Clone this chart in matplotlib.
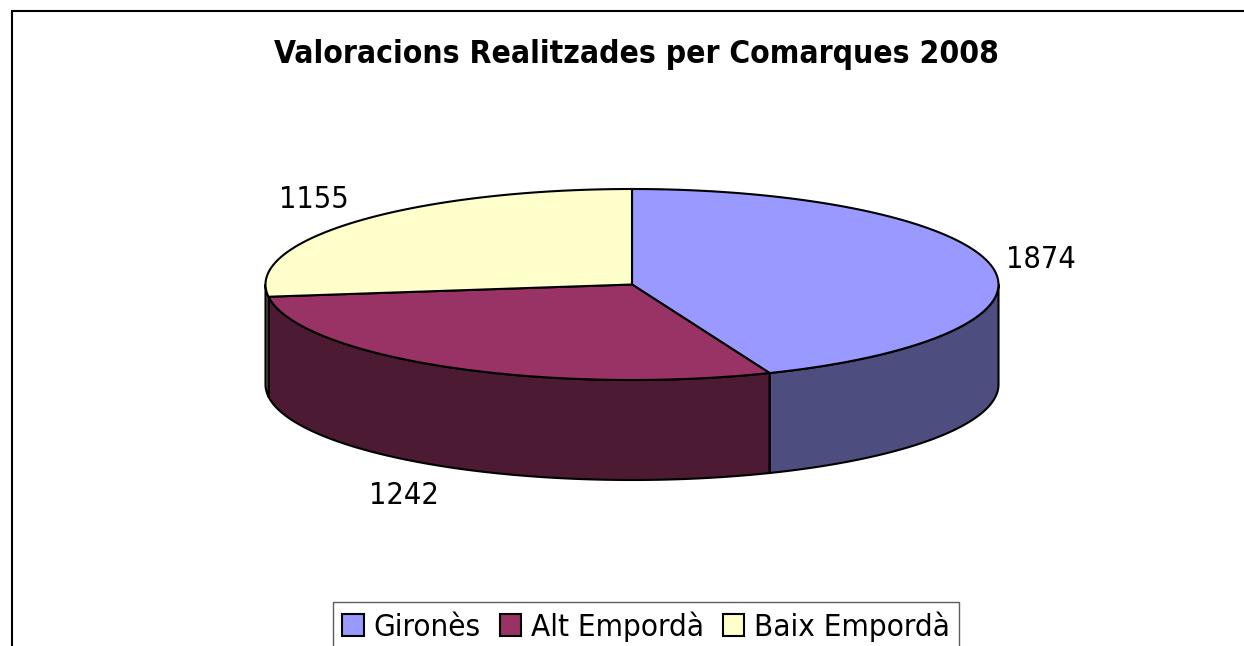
import numpy as np
import matplotlib
matplotlib.use('Agg')
import matplotlib.pyplot as plt
from matplotlib.patches import Polygon, Patch

# data
comarques = ['Gironès', 'Alt Empordà', 'Baix Empordà']
valors = [1874, 1242, 1155]
titol = 'Valoracions Realitzades per Comarques 2008'

colors_top = ['#9999FF', '#993366', '#FFFFCC']
colors_side = ['#4D4D80', '#4C1A33', '#80806A']

# geometry of the 3d pie, in pixels
cx, cy = 632, 284.5
a, b = 366.5, 95.5
depth = 100

plt.rcParams['font.family'] = ['DejaVu Sans']
plt.rcParams['font.stretch'] = 'condensed'

fig = plt.figure(figsize=(12.44, 6.46), dpi=100)
ax = fig.add_axes([0, 0, 1, 1])
ax.set_xlim(0, 1244)
ax.set_ylim(646, 0)
ax.axis('off')


def arc(t1, t2, dy=0, n=100):
    t = np.radians(np.linspace(t1, t2, n))
    return np.column_stack([cx + a * np.cos(t), cy - b * np.sin(t) + dy])


total = float(sum(valors))
fracs = np.array(valors) / total
starts = 90 - 360 * np.concatenate([[0], np.cumsum(fracs)[:-1]])
ends = starts - 360 * fracs

# side walls (front half of the ellipse only)
for t1, t2, col in zip(starts, ends, colors_side):
    lo, hi = max(t2, -180), min(t1, 0)
    if hi <= lo:
        continue
    top = arc(lo, hi)
    bot = arc(hi, lo, dy=depth)
    ax.add_patch(Polygon(np.vstack([top, bot]), closed=True, facecolor=col,
                         edgecolor='black', lw=1.5, joinstyle='round', zorder=2))

# top faces
for t1, t2, col in zip(starts, ends, colors_top):
    pts = np.vstack([[cx, cy], arc(t1, t2)])
    ax.add_patch(Polygon(pts, closed=True, facecolor=col, edgecolor='black',
                         lw=1.5, joinstyle='round', zorder=3))

# data labels, just outside the rim at the middle of each slice
for t1, t2, v in zip(starts, ends, valors):
    m = np.radians((t1 + t2) / 2)
    x, y = arc(np.degrees(m), np.degrees(m), n=1)[0]
    if np.sin(m) < 0:
        y += depth
    x += 46 * np.sign(np.cos(m))
    y -= 33 * np.sin(m)
    ax.text(x + 3, y, str(v), ha='center', va='center', fontsize=22)

ax.text(636, 54, titol, ha='center', va='center', fontsize=22.8, fontweight='bold')

# chart frame
ax.plot([12, 12, 1244], [646, 11, 11], color='black', lw=1.5, solid_joinstyle='miter')

handles = [Patch(facecolor=c, edgecolor='black', lw=1.5) for c in colors_top]
leg = fig.legend(handles, comarques, ncol=3, loc='upper left',
                 bbox_to_anchor=(333 / 1244, 1 - 602 / 646), fontsize=22.5,
                 frameon=True, fancybox=False, borderaxespad=0,
                 handlelength=0.7, handleheight=0.7, handletextpad=0.3,
                 columnspacing=0.6, borderpad=0.3)
leg.get_frame().set_edgecolor('#333333')
leg.get_frame().set_linewidth(1.0)

fig.savefig('out.png', dpi=100)
